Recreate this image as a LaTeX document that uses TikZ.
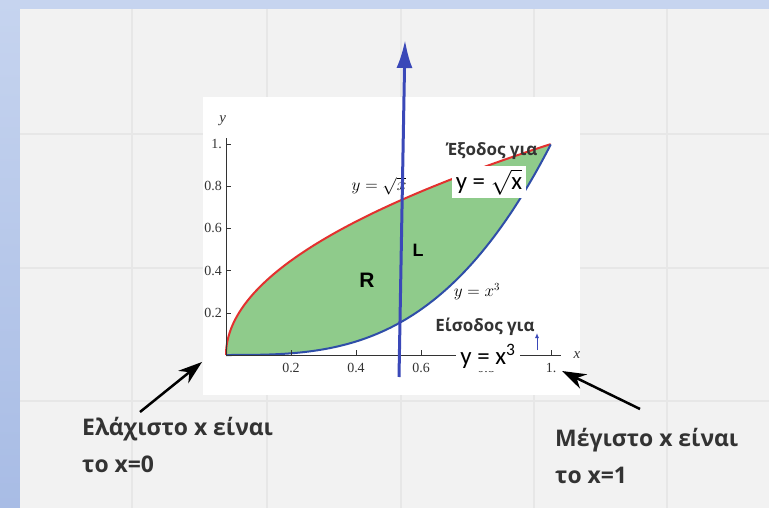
\documentclass[tikz,border=0pt]{standalone}
\usepackage{fontspec}
\setmainfont{Liberation Serif}
\newfontfamily\notefont{Open Sans}
\newfontfamily\boxfont{Carlito}
\newfontfamily\letterfont{Liberation Sans}
\usetikzlibrary{arrows.meta}

\definecolor{bandtop}{HTML}{C6D4EF}
\definecolor{bandbot}{HTML}{A8BCE5}
\definecolor{paper}{HTML}{F2F2F2}
\definecolor{gridgray}{HTML}{E7E7E7}
\definecolor{notegray}{HTML}{333333}
\definecolor{regiongreen}{HTML}{8FCB8B}
\definecolor{sqrtred}{HTML}{E3312F}
\definecolor{cubeblue}{HTML}{2F4EA8}
\definecolor{lineblue}{HTML}{3A48B8}

\tikzset{
  every node/.style={inner sep=0pt},
  note/.style={font=\notefont\bfseries\fontsize{23}{37}\selectfont,
    text=notegray, align=left, anchor=base west},
  gate/.style={font=\notefont\bfseries\fontsize{17}{19}\selectfont, text=notegray},
  eqbox/.style={font=\boxfont\fontsize{25}{27}\selectfont, fill=white,
    inner xsep=4bp, inner ysep=3bp},
  ticklbl/.style={font=\fontsize{14}{16}\selectfont, text=notegray},
  pointer/.style={-{Stealth[length=24bp,width=16bp]}, line width=2.5bp, black},
}

\begin{document}
\begin{tikzpicture}[x=1bp, y=-1bp]
  \useasboundingbox (0,0) rectangle (769,508);
  % background and grid
  \shade[top color=bandtop, bottom color=bandbot] (0,0) rectangle (769,508);
  \fill[paper] (20,9) rectangle (769,508);
  \foreach \gx in {132,267,401,534,667}
    \draw[gridgray, line width=1.2bp] (\gx,9) -- (\gx,508);
  \foreach \gy in {134,268,401}
    \draw[gridgray, line width=1.2bp] (20,\gy) -- (769,\gy);
  \fill[white] (203,97) rectangle (580,395);

  % the plot
  \begin{scope}[shift={(226,355)}, x=325bp, y=211bp]
    \fill[regiongreen] plot[domain=0:1, samples=80] ({\x*\x},\x)
      -- plot[domain=1:0, samples=80] (\x,{\x*\x*\x}) -- cycle;
    \draw[sqrtred, line width=2bp] plot[domain=0:1, samples=80] ({\x*\x},\x);
    \draw[cubeblue, line width=2bp] plot[domain=0:1, samples=80] (\x,{\x*\x*\x});
    \draw[notegray, line width=1bp] (0,0) -- (1.03,0);
    \draw[notegray, line width=1bp] (0,0) -- (0,1.03);
    \foreach \t/\tl in {0.2/0.2,0.4/0.4,0.6/0.6,0.8/0.8,1/1.} {
      \draw[notegray] (\t,0) -- (\t,0.025);
      \draw[notegray] (0,\t) -- (0.016,\t);
      \node[ticklbl, anchor=east] (ylab\tl) at (-0.012,\t) {\tl};
    }
    \foreach \t/\tl in {0.2/0.2,0.4/0.4,0.6/0.6,0.8/0.8,1/1.}
      \node[ticklbl] (xlab\tl) at (\t,-0.062) {\tl};
    \node[ticklbl, font=\itshape\fontsize{15}{17}\selectfont] (xname) at (1.08,0) {x};
    \node[ticklbl, font=\itshape\fontsize{15}{17}\selectfont] (yname) at (-0.01,1.11) {y};
  \end{scope}

  % curve labels and regions
  \node[text=black, font=\fontsize{16}{18}\selectfont] (sqrtlbl) at (379,186) {$y=\sqrt{x}$};
  \node[text=black, font=\fontsize{16}{18}\selectfont] (cubelbl) at (477,292) {$y=x^3$};
  \node[font=\letterfont\bfseries\fontsize{21}{23}\selectfont] (R) at (367,280) {R};
  \node[font=\letterfont\bfseries\fontsize{18}{20}\selectfont] (L) at (418,250) {L};

  % exit and entry of the line
  \node[gate] (exit) at (492,151) {Έξοδος για};
  \node[eqbox] (exiteq) at (489,182) {y = $\sqrt{\mbox{x}}$};
  \node[gate] (entry) at (485,327) {Είσοδος για};
  \node[eqbox] (entryeq) at (488,356) {y = x\textsuperscript{3}};

  % the vertical line L
  \coordinate (lbot) at (399,377);
  \coordinate (ltop) at (405,40);
  \draw[lineblue, line width=3bp, -{Latex[length=28bp,width=16bp]}] (lbot) -- (ltop);
  \coordinate (tinybot) at (537,350);
  \coordinate (tinytop) at (537,333);
  \draw[lineblue, line width=1bp, -{Latex[length=5bp,width=4bp]}] (tinybot) -- (tinytop);

  % notes
  \node[note] (minnote) at (82,472) {Ελάχιστο x είναι\\το x=0};
  \node[note] (maxnote) at (555,483) {Μέγιστο x είναι\\το x=1};
  \coordinate (minfrom) at (140,412);
  \coordinate (minto) at (202,362);
  \coordinate (maxfrom) at (640,409);
  \coordinate (maxto) at (562,371);
  \draw[pointer] (minfrom) -- (minto);
  \draw[pointer] (maxfrom) -- (maxto);
\end{tikzpicture}
\end{document}
